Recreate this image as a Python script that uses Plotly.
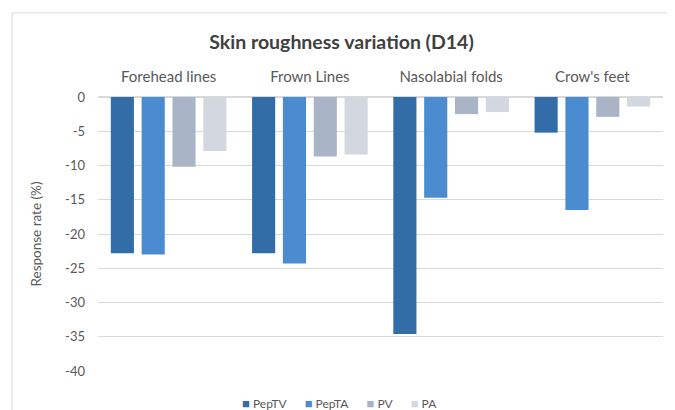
import plotly.graph_objects as go

categories = ["Forehead lines", "Frown Lines", "Nasolabial folds", "Crow's feet"]
series_names = ["PepTV", "PepTA", "PV", "PA"]
pep_tv = [-22.8, -22.8, -34.6, -5.2]
pep_ta = [-23.0, -24.3, -14.7, -16.5]
pv = [-10.2, -8.7, -2.5, -2.9]
pa = [-7.9, -8.4, -2.2, -1.4]
y_ticks = [0, -5, -10, -15, -20, -25, -30, -35, -40]

colors = ["#336da8", "#4a8ccf", "#a9b5c7", "#d3d8e0"]
values = [pep_tv, pep_ta, pv, pa]

fig = go.Figure()
for name, vals, col in zip(series_names, values, colors):
    fig.add_trace(go.Bar(x=categories, y=vals, name=name, marker=dict(color=col, line=dict(width=0))))

legend_text = "&nbsp;&nbsp;&nbsp;&nbsp;&nbsp;&nbsp;".join(
    f"<span style='color:{c};font-size:13px'>■</span> {n}" for n, c in zip(series_names, colors)
)

fig.update_layout(
    width=667, height=402,
    paper_bgcolor="white", plot_bgcolor="white",
    font=dict(family="Lato, Open Sans, sans-serif", color="#595959", size=11),
    title=dict(text="<b>Skin roughness variation (D14)</b>", x=0.5, xanchor="center", y=0.915, yanchor="middle",
               font=dict(size=19.5, color="#404040", family="Lato, sans-serif")),
    barmode="group", bargap=0.127, bargroupgap=0.25,
    margin=dict(l=90, r=12, t=89, b=39, autoexpand=False),
    showlegend=False,
    xaxis=dict(side="top", showgrid=False, showline=False, ticks="", automargin=False,
               ticklabelstandoff=11, tickfont=dict(size=15, color="#595959")),
    yaxis=dict(range=[-40, 0], tickvals=y_ticks, ticktext=[str(v) for v in y_ticks], automargin=False,
               showgrid=True, gridcolor="#d9d9d9", zeroline=True, zerolinecolor="#d9d9d9",
               showline=False, ticks="", ticklabelstandoff=12, tickfont=dict(size=13, color="#595959"),
               title=dict(text="Response rate (%)", font=dict(size=13.5, color="#595959"), standoff=20)),
    annotations=[dict(text=legend_text, xref="paper", yref="paper", x=0.428, y=-0.117,
                      xanchor="center", yanchor="middle", showarrow=False,
                      font=dict(size=12, color="#595959"))],
    shapes=[dict(type="rect", xref="paper", yref="paper", x0=-0.152, x1=1.05, y0=-0.2, y1=1.307,
                 line=dict(color="#d9d9d9", width=1), fillcolor="rgba(0,0,0,0)", layer="below")],
)

fig.write_html("out.html")
